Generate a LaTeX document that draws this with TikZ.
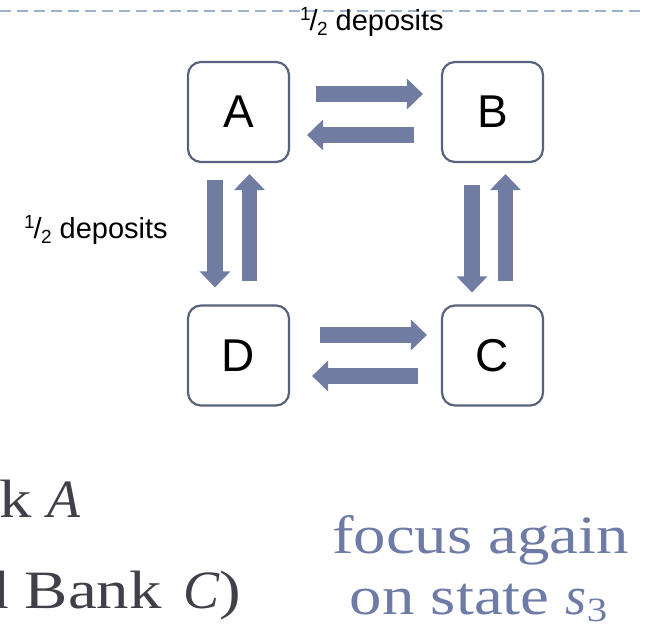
\documentclass[tikz,border=0pt]{standalone}
\usepackage{fontspec}
\setmainfont[FakeStretch=1.2]{Liberation Serif}
\newfontfamily\mathletter{Liberation Serif}
\newfontfamily\labelfont{Liberation Sans}
\usetikzlibrary{arrows.meta}

\definecolor{flowblue}{RGB}{112,124,162}
\definecolor{boxedge}{RGB}{88,98,124}
\definecolor{rulecol}{RGB}{156,178,202}
\definecolor{bodytext}{RGB}{64,64,74}
\definecolor{accent}{RGB}{110,123,166}

% one half written as a slanted fraction
\newcommand\halfmark{\raisebox{0.34em}{\fontsize{19}{19}\selectfont 1}\kern-0.04em/\kern-0.02em\raisebox{-0.2em}{\fontsize{19}{19}\selectfont 2}}
% subscript digit for the state name
\newcommand\lowdigit[1]{\raisebox{-0.14em}{\fontsize{34}{34}\selectfont #1}}
% italic symbol letter
\newcommand\symb[1]{{\mathletter\itshape #1}}

\tikzset{
  bank/.style={draw=boxedge, line width=2.2pt, rounded corners=13pt,
    minimum width=101pt, minimum height=100pt, inner sep=0pt,
    font=\labelfont\fontsize{46}{46}\selectfont},
  flow/.style={draw=flowblue, line width=15.5pt,
    -{Triangle[width=30pt,length=16pt]}},
  note/.style={font=\labelfont\fontsize{29}{29}\selectfont, inner sep=0pt},
  slidetext/.style={font=\fontsize{54}{54}\selectfont, text=bodytext, inner sep=0pt},
  remark/.style={font=\fontsize{54}{54}\selectfont, text=accent, inner sep=0pt}
}

\begin{document}
\begin{tikzpicture}[x=1pt, y=-1pt]
\useasboundingbox (0,0) rectangle (646,627);
\clip (0,0) rectangle (646,627);

% header rule
\draw[rulecol, line width=2.2pt, dash pattern=on 11pt off 6pt] (0,11) -- (646,11);

% the four banks
\node[bank] (A) at (238.5,112) {A};
\node[bank] (B) at (492.5,112) {B};
\node[bank] (D) at (238.5,355.5) {D};
\node[bank] (C) at (492.5,355.5) {C};

% deposit flows between A and B
\draw[flow, shorten <=26pt, shorten >=18pt] ([yshift=18pt]A.east) -- ([yshift=18pt]B.west);
\draw[flow, shorten <=27pt, shorten >=17pt] ([yshift=-23pt]B.west) -- ([yshift=-23pt]A.east);
% deposit flows between D and C
\draw[flow, shorten <=30pt, shorten >=14pt] ([yshift=20.5pt]D.east) -- ([yshift=20.5pt]C.west);
\draw[flow, shorten <=23pt, shorten >=22pt] ([yshift=-20.5pt]C.west) -- ([yshift=-20.5pt]D.east);
% deposit flows between A and D
\draw[flow, shorten <=17pt, shorten >=17pt] ([xshift=-23.5pt]A.south) -- ([xshift=-23.5pt]D.north);
\draw[flow, shorten <=23pt, shorten >=11pt] ([xshift=11pt]D.north) -- ([xshift=11pt]A.south);
% deposit flows between B and C
\draw[flow, shorten <=22pt, shorten >=12pt] ([xshift=-20.5pt]B.south) -- ([xshift=-20.5pt]C.north);
\draw[flow, shorten <=23pt, shorten >=11pt] ([xshift=13pt]C.north) -- ([xshift=13pt]B.south);

% flow labels
\node[note, anchor=base] (topnote) at (372,30) {\halfmark{} deposits};
\node[note, anchor=base] (leftnote) at (96,238) {\halfmark{} deposits};

% slide body text
\node[slidetext, anchor=base west] (lineone) at (-1,517) {k\hspace{0.3em}\symb{A}};
\node[slidetext, anchor=base west] (linetwo) at (-24,608) {d Bank\hspace{0.4em}\symb{C})};

% side remark
\node[remark, anchor=base] (remarkone) at (480.5,553) {focus again};
\node[remark, anchor=base] (remarktwo) at (478.5,614) {on state \symb{s}\lowdigit{3}};
\end{tikzpicture}
\end{document}
